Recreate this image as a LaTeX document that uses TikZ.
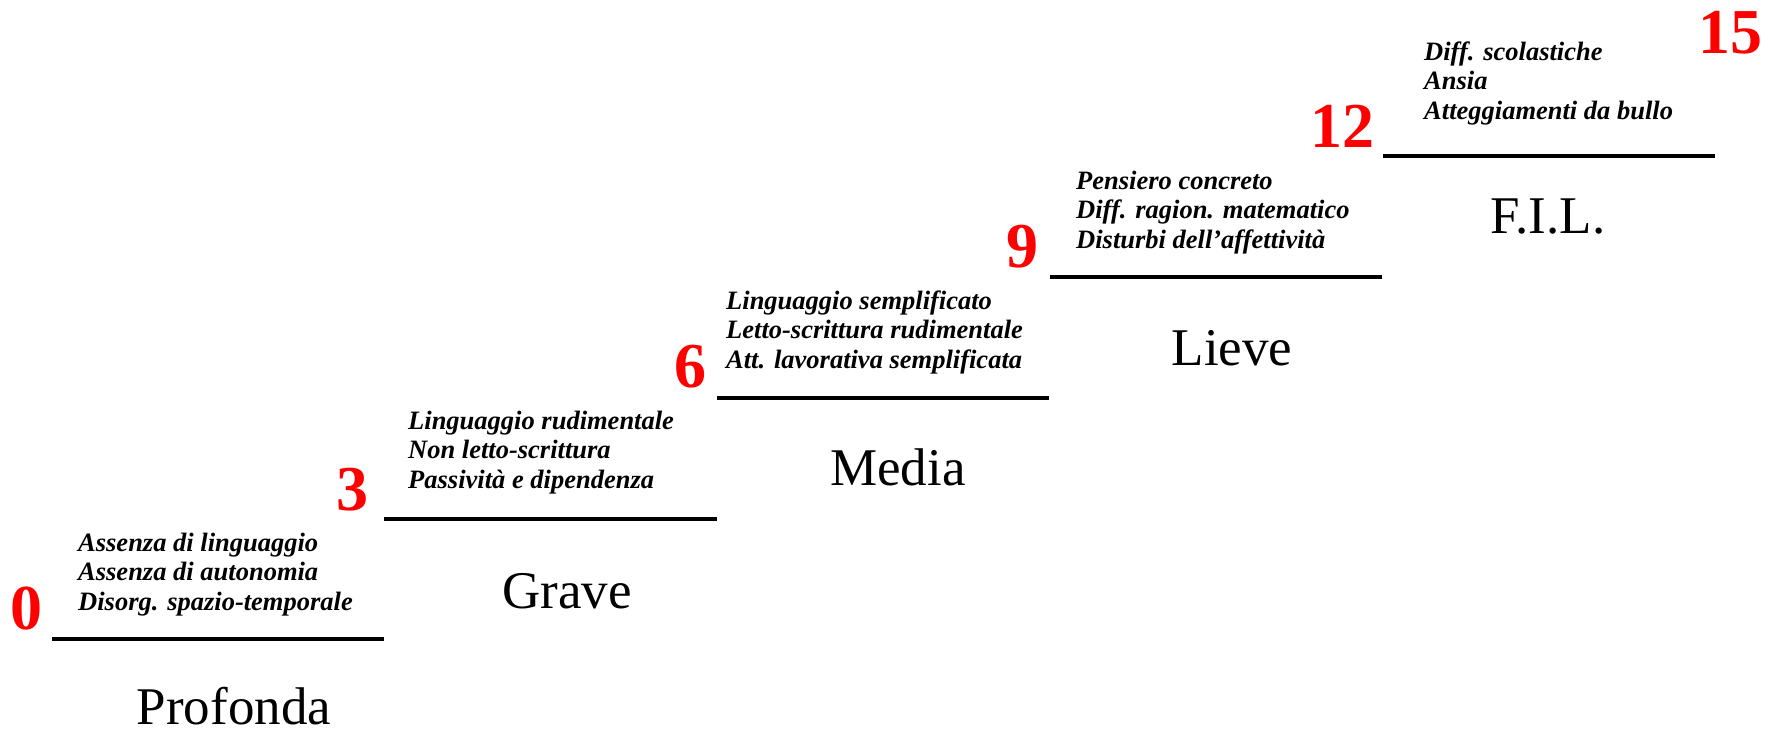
\documentclass[tikz,border=0pt]{standalone}
\usepackage{fontspec}
\setmainfont{Liberation Serif}
\usepackage{tikz}
\usetikzlibrary{positioning}

\begin{document}
\begin{tikzpicture}[
  x=1pt, y=-1pt,
  gradino/.style={line width=4pt},
  numero/.style={text=red, inner sep=0pt, anchor=base east,
                 font=\fontsize{64}{64}\selectfont\bfseries},
  descr/.style={inner sep=0pt, anchor=base west, align=left,
                font=\fontsize{26.5}{29.5}\selectfont\bfseries\itshape},
  livello/.style={inner sep=0pt, anchor=base,
                  font=\fontsize{53}{53}\selectfont}]

\useasboundingbox (0,0) rectangle (1773,731);

\coordinate (g0a) at (52,639);   \coordinate (g0b) at (384,639);
\coordinate (g1a) at (384,519);  \coordinate (g1b) at (717,519);
\coordinate (g2a) at (717,398);  \coordinate (g2b) at (1049,398);
\coordinate (g3a) at (1050,277); \coordinate (g3b) at (1382,277);
\coordinate (g4a) at (1383,156); \coordinate (g4b) at (1715,156);

\draw[gradino] (g0a) -- (g0b);
\draw[gradino] (g1a) -- (g1b);
\draw[gradino] (g2a) -- (g2b);
\draw[gradino] (g3a) -- (g3b);
\draw[gradino] (g4a) -- (g4b);

\node[numero] (n0) at (43,629) {0};
\node[numero] (n3) at (369,510) {3};
\node[numero] (n6) at (707,387) {6};
\node[numero] (n9) at (1039,267) {9};
\node[numero] (n12) at (1375,147) {12};
\node[numero] (n15) at (1763,53) {15};

\node[descr] (d0) at (78,610) {Assenza di linguaggio\\Assenza di autonomia\\Disorg. spazio-temporale};
\node[descr] (d1) at (408,488) {Linguaggio rudimentale\\Non letto-scrittura\\Passività e dipendenza};
\node[descr] (d2) at (726,368) {Linguaggio semplificato\\Letto-scrittura rudimentale\\Att. lavorativa semplificata};
\node[descr] (d3) at (1076,248) {Pensiero concreto\\Diff. ragion. matematico\\Disturbi dell’affettività};
\node[descr] (d4) at (1424,119) {Diff. scolastiche\\Ansia\\Atteggiamenti da bullo};

\node[livello] (profonda) at (234,724) {Profonda};
\node[livello] (grave) at (567,608) {Grave};
\node[livello] (media) at (898,485) {Media};
\node[livello] (lieve) at (1232,365) {Lieve};
\node[livello] (fil) at (1548,233) {F.I.L.};
\end{tikzpicture}
\end{document}
